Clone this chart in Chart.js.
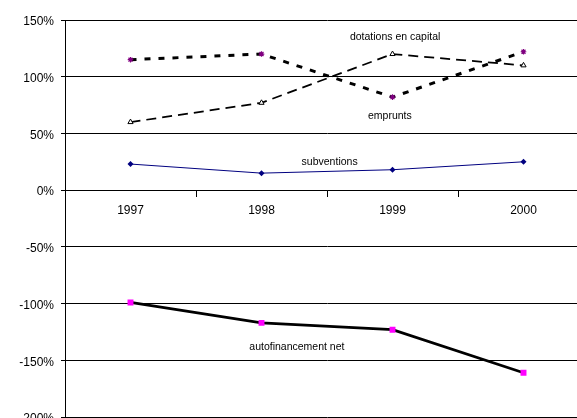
<!DOCTYPE html>
<html>
<head>
<meta charset="utf-8">
<script src="https://cdn.jsdelivr.net/npm/chart.js@4/dist/chart.umd.min.js"></script>
<style>
  html, body { margin: 0; padding: 0; background: #fff; overflow: hidden; }
  canvas { display: block; }
</style>
</head>
<body>
<canvas id="chart" width="600" height="440" style="width:600px;height:440px"></canvas>
<script>
// Years on the category axis
const years = ['1997', '1998', '1999', '2000'];

// Series values, in percent
const dotations = [60, 77, 120, 110];
const emprunts = [115, 120, 82, 122];
const subventions = [23, 15, 18, 25];
const autofinancement = [-99, -117, -123, -161];

// Names written next to each curve
const seriesNames = ['dotations en capital', 'emprunts', 'subventions', 'autofinancement net'];

const FONT = '"Liberation Sans", Arial, sans-serif';

// Writes each series name inside the plot, anchored in data coordinates
const curveLabels = {
  id: 'curveLabels',
  afterDatasetsDraw(chart, args, opts) {
    const { ctx, scales: { x, y } } = chart;
    ctx.save();
    ctx.font = opts.font;
    ctx.fillStyle = opts.color;
    ctx.textAlign = 'center';
    ctx.textBaseline = 'middle';
    opts.items.forEach((item, i) => {
      ctx.fillText(seriesNames[i], x.getPixelForValue(item.at), y.getPixelForValue(item.value));
    });
    ctx.restore();
  }
};

new Chart(document.getElementById('chart'), {
  type: 'line',
  data: {
    labels: years,
    datasets: [
      {
        label: seriesNames[0],
        data: dotations,
        borderColor: '#000',
        borderWidth: 1.75,
        borderDash: [10, 6],
        pointStyle: 'triangle',
        pointRadius: 3,
        pointBackgroundColor: '#fff',
        pointBorderColor: '#000',
        pointBorderWidth: 1,
        tension: 0
      },
      {
        label: seriesNames[1],
        data: emprunts,
        borderColor: '#000',
        borderWidth: 3,
        borderDash: [6, 8],
        pointStyle: 'star',
        pointRadius: 2.8,
        pointBorderColor: '#800080',
        pointBackgroundColor: '#800080',
        pointBorderWidth: 1.2,
        tension: 0
      },
      {
        label: seriesNames[2],
        data: subventions,
        borderColor: '#000080',
        borderWidth: 1,
        pointStyle: 'rectRot',
        pointRadius: 3,
        pointBackgroundColor: '#000080',
        pointBorderColor: '#000080',
        pointBorderWidth: 0,
        tension: 0
      },
      {
        label: seriesNames[3],
        data: autofinancement,
        borderColor: '#000',
        borderWidth: 2.75,
        pointStyle: 'rect',
        pointRadius: 4.2,
        pointBackgroundColor: '#ff00ff',
        pointBorderColor: '#ff00ff',
        pointBorderWidth: 0,
        tension: 0
      }
    ]
  },
  options: {
    responsive: false,
    animation: false,
    devicePixelRatio: 1,
    layout: { padding: { top: 20, right: 11, bottom: 23, left: 0 } },
    plugins: {
      legend: { display: false },
      tooltip: { enabled: false },
      curveLabels: {
        font: '10.5px ' + FONT,
        color: '#000',
        items: [
          { at: 2.02, value: 134.5 },
          { at: 1.98, value: 65.5 },
          { at: 1.52, value: 24.5 },
          { at: 1.27, value: -138.5 }
        ]
      }
    },
    scales: {
      x: {
        type: 'category',
        position: { y: 0 },
        offset: true,
        grid: {
          offset: true,
          drawOnChartArea: false,
          drawTicks: true,
          tickLength: 6,
          color: '#000'
        },
        border: { display: true, color: '#000', width: 1 },
        ticks: {
          color: '#000',
          padding: 7,
          font: { family: FONT, size: 12 }
        }
      },
      y: {
        min: -200,
        max: 150,
        afterFit(scale) { scale.width = 65; },
        grid: {
          color: '#000',
          lineWidth: 1,
          drawTicks: true,
          tickLength: 4
        },
        border: { display: true, color: '#000', width: 1 },
        ticks: {
          stepSize: 50,
          color: '#000',
          padding: 7,
          labelOffset: 2,
          font: { family: FONT, size: 12 },
          callback: v => v + '%'
        }
      }
    }
  },
  plugins: [curveLabels]
});
</script>
</body>
</html>
